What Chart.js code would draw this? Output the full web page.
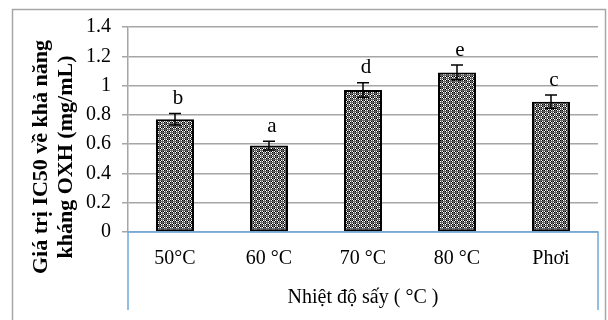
<!DOCTYPE html>
<html>
<head>
<meta charset="utf-8">
<script src="https://cdn.jsdelivr.net/npm/chart.js@4"></script>
<style>
  body { margin: 0; background: #fff; }
  #wrap { width: 608px; height: 320px; }
</style>
</head>
<body>
<div id="wrap"><canvas id="ic50Chart" width="608" height="320"></canvas></div>
<script>
const categories = ["50°C", "60 °C", "70 °C", "80 °C", "Phơi"];
const ic50Values = [0.77, 0.59, 0.97, 1.09, 0.89];
const ic50Errors = [0.04, 0.03, 0.05, 0.05, 0.045];
const groupLetters = ["b", "a", "d", "e", "c"];
const yTitleLines = ["Giá trị IC50 về khả năng", "kháng OXH (mg/mL)"];
const xTitle = "Nhiệt độ sấy ( °C )";

const ctx = document.getElementById("ic50Chart");

function makePattern() {
  const c = document.createElement("canvas");
  c.width = 6;
  c.height = 6;
  const g = c.getContext("2d");
  g.fillStyle = "#666";
  g.fillRect(0, 0, 6, 6);
  for (let i = 0; i < 6; i++) {
    for (let j = 0; j < 6; j++) {
      if (i % 3 === 0 || j % 3 === 0) continue;
      g.fillStyle = (i + j) % 2 === 0 ? "#000" : "#fff";
      g.fillRect(i, j, 1, 1);
    }
  }
  return g.createPattern(c, "repeat");
}

// frame, blue category box, error bars, letters, y title
const extras = {
  id: "extras",
  beforeDraw(chart) {
    const c = chart.ctx;
    c.save();
    c.strokeStyle = "#a6a6a6";
    c.lineWidth = 1.5;
    c.strokeRect(12.5, 9.5, 593, 330);
    c.restore();
  },
  afterDatasetsDraw(chart) {
    const c = chart.ctx;
    const x = chart.scales.x;
    const y = chart.scales.y;
    const meta = chart.getDatasetMeta(0);
    c.save();
    c.strokeStyle = "#000";
    c.lineWidth = 1.5;
    meta.data.forEach((bar, i) => {
      const top = y.getPixelForValue(ic50Values[i] + ic50Errors[i]);
      const bot = y.getPixelForValue(ic50Values[i] - ic50Errors[i]);
      c.beginPath();
      c.moveTo(bar.x, top);
      c.lineTo(bar.x, bot);
      c.moveTo(bar.x - 6, top);
      c.lineTo(bar.x + 6, top);
      c.moveTo(bar.x - 6, bot);
      c.lineTo(bar.x + 6, bot);
      c.stroke();
      c.fillStyle = "#000";
      c.font = "21px 'Liberation Serif'";
      c.textAlign = "center";
      c.textBaseline = "middle";
      c.fillText(groupLetters[i], bar.x + 3, top - 15);
    });
    // blue category box under the axis
    const y0 = y.getPixelForValue(0);
    c.strokeStyle = "#6fa8dc";
    c.lineWidth = 1.5;
    c.beginPath();
    c.moveTo(x.left, 310);
    c.lineTo(x.left, y0);
    c.lineTo(x.right, y0);
    c.lineTo(x.right, 310);
    c.stroke();
    // y title
    c.fillStyle = "#000";
    c.font = "bold 22px 'Liberation Serif'";
    c.textAlign = "center";
    c.textBaseline = "alphabetic";
    c.translate(0, 157);
    c.rotate(-Math.PI / 2);
    c.fillText(yTitleLines[0], 0, 47);
    c.fillText(yTitleLines[1], 0, 72);
    c.restore();
  }
};

new Chart(ctx, {
  type: "bar",
  data: {
    labels: categories,
    datasets: [
      {
        data: ic50Values,
        backgroundColor: makePattern(),
        borderColor: "#000",
        borderWidth: 2,
        borderSkipped: false,
        barPercentage: 0.404,
        categoryPercentage: 1,
      },
    ],
  },
  options: {
    responsive: false,
    animation: false,
    layout: { padding: { top: 27, right: 10, left: 0, bottom: 0 } },
    plugins: {
      legend: { display: false },
      tooltip: { enabled: false },
    },
    scales: {
      x: {
        grid: { display: false, drawTicks: false },
        border: { display: false },
        ticks: {
          color: "#000",
          padding: 15,
          font: { family: "'Liberation Serif'", size: 20 },
        },
        title: {
          display: true,
          text: xTitle,
          color: "#000",
          padding: { top: 0, bottom: 10 },
          font: { family: "'Liberation Serif'", size: 20 },
        },
        afterFit(scale) {
          scale.height = 88;
        },
      },
      y: {
        min: 0,
        max: 1.4,
        ticks: {
          stepSize: 0.2,
          color: "#000",
          padding: 11,
          font: { family: "'Liberation Serif'", size: 20 },
          callback: (v) => String(Number(v.toFixed(1))),
        },
        grid: { color: "#a6a6a6", lineWidth: 1.5, tickLength: 6 },
        border: { color: "#a6a6a6", width: 1.5 },
        afterFit(scale) {
          scale.width = 128;
        },
      },
    },
  },
  plugins: [extras],
});
</script>
</body>
</html>
